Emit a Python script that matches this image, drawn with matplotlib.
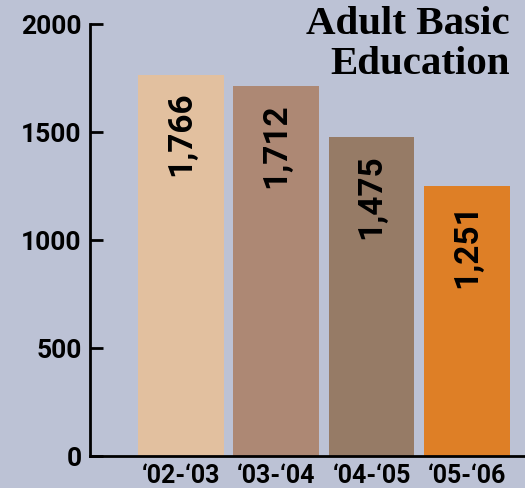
import matplotlib.pyplot as plt

years = ["\u201802-\u201803", "\u201803-\u201804", "\u201804-\u201805", "\u201805-\u201806"]
enrolled = [1766, 1712, 1475, 1251]
bar_colors = ["#E2C09F", "#AD8874", "#967B66", "#DE7F26"]
y_ticks = [0, 500, 1000, 1500, 2000]

bg = "#BCC2D5"
num_font = "Roboto"
fig = plt.figure(figsize=(5.25, 4.89), dpi=100)
fig.patch.set_facecolor(bg)
ax = fig.add_axes([90/525, 32/489, 435/525, 432/489])
ax.set_facecolor(bg)

x = range(len(years))
ax.bar(x, enrolled, width=0.9, color=bar_colors)

for i, v in enumerate(enrolled):
    ax.text(i, v - 75, f"{v:,}", rotation=90, ha="center", va="top",
            fontsize=24, fontweight="bold", family=num_font)

ax.set_xlim(-0.955, 3.61)
ax.set_ylim(0, 2000)
ax.set_xticks(list(x))
ax.set_xticklabels(years, fontsize=18, fontweight="bold", family=num_font)
ax.set_yticks(y_ticks)
ax.set_yticklabels([str(t) for t in y_ticks], fontsize=19, fontweight="bold", family=num_font)
ax.tick_params(axis="x", length=0, pad=5)
ax.tick_params(axis="y", direction="in", length=9, width=2, pad=6)

for s in ["top", "right"]:
    ax.spines[s].set_visible(False)
for s in ["left", "bottom"]:
    ax.spines[s].set_linewidth(2)

fig.text(510/525, 1 - 6/489, "Adult Basic\nEducation", ha="right", va="top",
         fontsize=29.5, fontweight="bold", family="Liberation Serif", linespacing=1.12)

fig.savefig("out.png", dpi=100, facecolor=bg)
